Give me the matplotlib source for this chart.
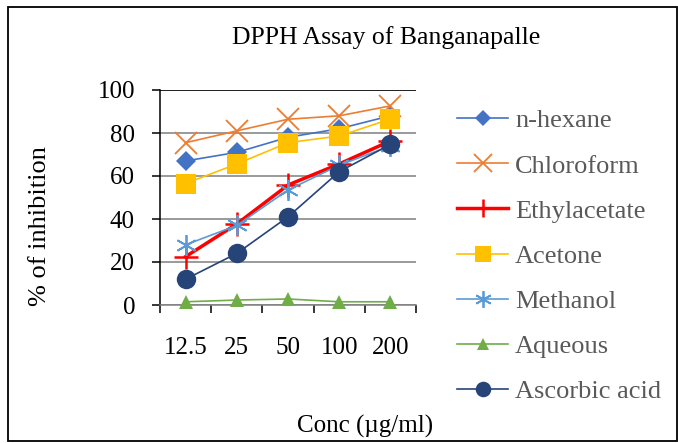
import numpy as np
import matplotlib
matplotlib.use("Agg")
import matplotlib.pyplot as plt
from matplotlib.patches import Rectangle

plt.rcParams['font.family'] = ['Liberation Serif', 'DejaVu Serif']

# Datos
conc = ['12.5', '25', '50', '100', '200']
n_hexane = [67, 71, 78, 82, 88]
chloroform = [75.5, 81, 86.4, 88, 92.6]
ethylacetate = [22.5, 37.7, 55.8, 65.6, 76.3]
acetone = [56.5, 65.6, 75.5, 78.6, 86.5]
methanol = [28, 37, 53.5, 65, 74]
aqueous = [1.5, 2.3, 2.8, 1.5, 1.5]
ascorbic = [12, 24, 41, 62, 74.7]

W, H = 678, 443
fig = plt.figure(figsize=(W / 100, H / 100), dpi=100)
ax = fig.add_axes([160 / W, 1 - 305 / H, 256 / W, 215 / H])

x = np.arange(len(conc))
series = [
    ('n-hexane', n_hexane, '#4472C4', 'D', 10, 1.2),
    ('Chloroform', chloroform, '#ED7D31', 'x', 16, 1.2),
    ('Ethylacetate', ethylacetate, '#FF0000', '+', 17, 2.5),
    ('Acetone', acetone, '#FFC000', 's', 14, 1.2),
    ('Methanol', methanol, '#5B9BD5', (6, 2, 0), 15, 1.2),
    ('Aqueous', aqueous, '#70AD47', '^', 10, 1.2),
    ('Ascorbic acid', ascorbic, '#264478', 'o', 14, 1.2),
]
for name, vals, col, mk, ms, lw in series:
    mew = 1.3 if mk in ('x', '+', (6, 2, 0)) else 0
    if mk == '+':
        mew = 1.8
    ax.plot(x, vals, color=col, lw=lw, marker=mk, ms=ms, mew=mew,
            mec=col, mfc=col, label=name, clip_on=False, zorder=3)

ax.set_xlim(-0.5, 4.5)
ax.set_ylim(0, 100)
ax.set_yticks(np.arange(0, 101, 20))
ax.yaxis.grid(True, color='#7f7f7f', lw=1.1)
ax.set_axisbelow(True)
for s in ['top', 'right']:
    ax.spines[s].set_visible(False)
ax.spines['left'].set_color('black')
ax.spines['bottom'].set_color('#7f7f7f')
ax.spines['left'].set_linewidth(1.1)
ax.spines['bottom'].set_linewidth(1.1)
ax.axhline(100, color='black', lw=1.1, zorder=1)

# ticks nos limites das categorias, rotulos no centro
ax.set_xticks(np.arange(-0.5, 4.6, 1))
ax.set_xticklabels([])
ax.set_xticks(x, minor=True)
ax.set_xticklabels(conc, minor=True, fontsize=18)
ax.tick_params(axis='x', which='major', length=6, width=1.1, color='black', direction='out')
ax.tick_params(axis='x', which='minor', length=0, pad=23)
ax.tick_params(axis='y', length=6, width=1.1, pad=12, labelsize=18)

fig.text(386 / W, 1 - 38 / H, 'DPPH Assay of Banganapalle', fontsize=18.5,
         ha='center', va='center')
fig.text(365 / W, 1 - 426 / H, 'Conc (\u00b5g/ml)', fontsize=18,
         ha='center', va='center')
fig.text(40 / W, 1 - 226 / H, '% of inhibition', fontsize=19,
         ha='center', va='center', rotation=90)

leg = fig.legend(loc='upper left', bbox_to_anchor=(457 / W, 1 - 109 / H),
                 frameon=False, fontsize=19, handlelength=1.95,
                 handletextpad=0.25, labelspacing=0.82, borderpad=0,
                 borderaxespad=0)
for t in leg.get_texts():
    t.set_color('#595959')
for h in leg.legend_handles:
    h.set_markersize(h.get_markersize() * 0.8)

fig.patches.append(Rectangle((8 / W, 2 / H), (W - 9) / W, (H - 9) / H,
                             transform=fig.transFigure, fill=False,
                             edgecolor='black', lw=1.3))

fig.savefig('out.png', dpi=100)
